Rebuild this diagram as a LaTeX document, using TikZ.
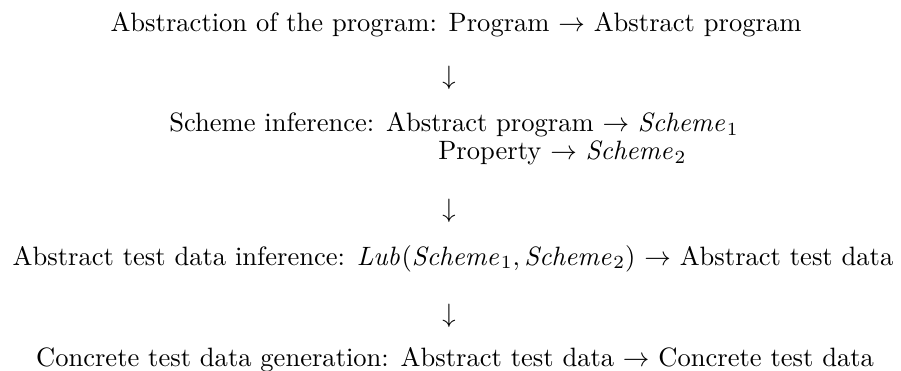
\documentclass[tikz,border=0pt]{standalone}
\begin{document}
\begin{tikzpicture}[x=1pt,y=-1pt,
  txt/.style={inner sep=0pt, anchor=base, scale=2.655, transform shape, font=\fontsize{10}{12}\selectfont}]
\useasboundingbox (0,0) rectangle (901,371);
\node[txt] (l1) at (456,32) {Abstraction of the program: Program $\rightarrow$ Abstract program};
\node[txt] (a1) at (449,85) {$\downarrow$};
\node[txt] (s) at (454,132) {\begin{tabular}[t]{@{}l@{ }c@{}}Scheme inference: & Abstract program $\rightarrow$ $\mathit{Scheme}_1$\\[-1.5pt]
 & Property $\rightarrow$ $\mathit{Scheme}_2$\end{tabular}};
\node[txt] (a2) at (449,218) {$\downarrow$};
\node[txt] (l3) at (453,265) {Abstract test data inference: $\mathit{Lub}(\mathit{Scheme}_1,\mathit{Scheme}_2)$ $\rightarrow$ Abstract test data};
\node[txt] (a3) at (449,322) {$\downarrow$};
\node[txt] (l4) at (455,366) {Concrete test data generation: Abstract test data $\rightarrow$ Concrete test data};
\end{tikzpicture}
\end{document}
